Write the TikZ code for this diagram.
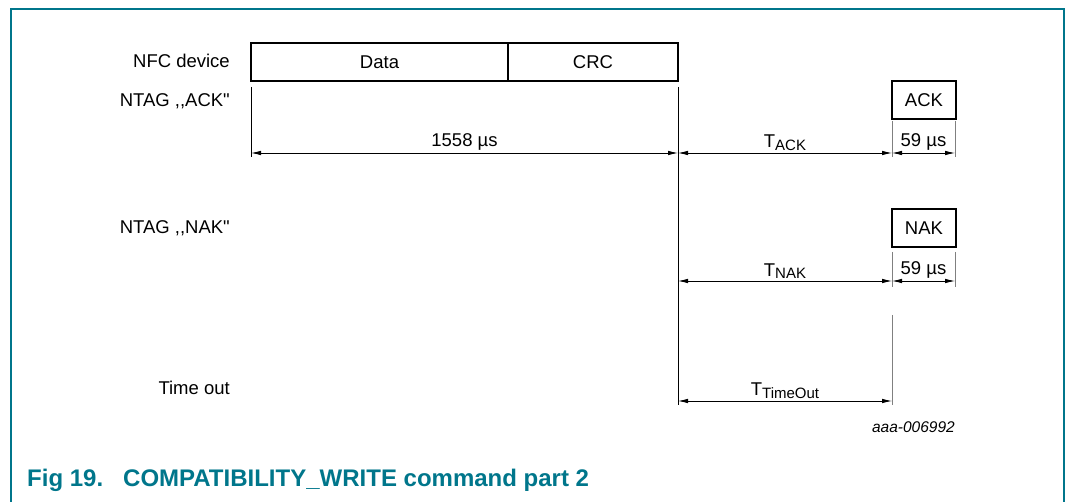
\documentclass[tikz,border=0pt]{standalone}
\usepackage{fontspec}
\setmainfont{Liberation Sans}
\newfontfamily\rowfont{Liberation Sans}
\usetikzlibrary{arrows.meta,positioning}
\definecolor{nxpteal}{RGB}{0,118,139}
\newcommand{\lowsub}[1]{\raisebox{-2.5pt}{\fontsize{15}{17}\selectfont #1}}
\tikzset{
  rowlabel/.style={anchor=east,inner sep=0pt,font=\rowfont\fontsize{18.5}{20}\selectfont},
  slot/.style={draw,line width=2.4pt,minimum height=38pt,inner sep=0pt,outer sep=0pt,
    font=\fontsize{18.5}{20}\selectfont},
  span/.style={{Latex[length=10pt,width=4.5pt]}-{Latex[length=10pt,width=4.5pt]},
    line width=0.8pt},
  tick/.style={draw=black!50,line width=1pt},
  dimtext/.style={above,inner sep=2pt,font=\fontsize{18.5}{20}\selectfont}
}
\begin{document}
\begin{tikzpicture}[x=1pt,y=-1pt]
  \useasboundingbox (0,0) rectangle (1066,502);
  % frame
  \draw[nxpteal,line width=2pt] (11,502) -- (11,9) -- (1064,9) -- (1064,502);
  % rows
  \node[rowlabel] (nfc) at (230,61) {NFC device};
  \node[rowlabel] (ntagack) at (230,101) {NTAG ,,ACK"};
  \node[rowlabel] (ntagnak) at (230,228) {NTAG ,,NAK"};
  \node[rowlabel] (timeout) at (230,388) {Time out};
  % frames sent
  \node[slot,minimum width=257pt,anchor=north west] (data) at (251,43) {Data};
  \node[slot,minimum width=170pt,right=0pt of data] (crc) {CRC};
  \node[slot,minimum width=64pt] (ack) at (924,100) {ACK};
  \node[slot,minimum width=64pt] (nak) at (924,228) {NAK};
  % marker lines
  \coordinate (s0) at (251,87);  \coordinate (s1) at (251,157);
  \coordinate (e0) at (678,87);  \coordinate (e1) at (678,405);
  \coordinate (k0) at (892,121); \coordinate (k1) at (892,157);
  \coordinate (l0) at (955,121); \coordinate (l1) at (955,157);
  \coordinate (m0) at (892,252); \coordinate (m1) at (892,287);
  \coordinate (n0) at (955,252); \coordinate (n1) at (955,287);
  \coordinate (t0) at (892,315); \coordinate (t1) at (892,405);
  \draw[line width=0.8pt] (s0) -- (s1);
  \draw[line width=1pt] (e0) -- (e1);
  \foreach \a/\b in {k0/k1,l0/l1,m0/m1,n0/n1,t0/t1}
    \draw[tick] (\a) -- (\b);
  % arrows
  \coordinate (a0) at (251,153); \coordinate (a1) at (678,153);
  \coordinate (a2) at (892,153); \coordinate (a3) at (955,153);
  \coordinate (b1) at (678,281); \coordinate (b2) at (892,281);
  \coordinate (b3) at (955,281);
  \coordinate (c1) at (678,401); \coordinate (c2) at (892,401);
  \draw[span] (a0) -- node[dimtext] (frame) {1558 µs} (a1);
  \draw[span] (a1) -- node[dimtext] (tack) {T\lowsub{ACK}} (a2);
  \draw[span] (a2) -- node[dimtext] (ackdur) {59 µs} (a3);
  \draw[span] (b1) -- node[dimtext] (tnak) {T\lowsub{NAK}} (b2);
  \draw[span] (b2) -- node[dimtext] (nakdur) {59 µs} (b3);
  \draw[span] (c1) -- node[dimtext] (tout) {T\lowsub{TimeOut}} (c2);
  % id and caption
  \node[anchor=east,inner sep=0pt,font=\itshape\fontsize{15.5}{17}\selectfont] (code) at (955,427) {aaa-006992};
  \node[anchor=west,inner sep=0pt,text=nxpteal,font=\bfseries\fontsize{24}{26}\selectfont] (cap) at (27,480)
    {Fig 19.\hspace{20pt}COMPATIBILITY\_WRITE command part 2};
\end{tikzpicture}
\end{document}
